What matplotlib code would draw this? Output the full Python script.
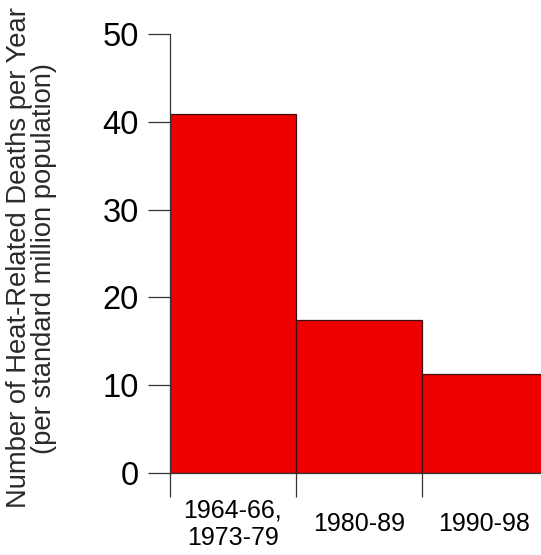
import matplotlib
matplotlib.use("Agg")
import matplotlib.pyplot as plt

periods = ["1964-66,\n1973-79", "1980-89", "1990-98"]
deaths = [40.9, 17.4, 11.2]
y_ticks = [0, 10, 20, 30, 40, 50]

plt.rcParams['font.family'] = ['Liberation Sans', 'DejaVu Sans']

fig = plt.figure(figsize=(5.41, 5.55), dpi=100)
ax = fig.add_axes([170 / 541, 82.3 / 555, 1 - 170 / 541, 438.4 / 555])

edges = list(range(len(deaths)))
ax.bar(edges, deaths, width=1.0, align='edge',
       color='#ee0000', edgecolor='#3a1010', linewidth=0.9, zorder=2)

ax.set_xlim(0, 2.95)
ax.set_ylim(0, 50)

ax.spines['top'].set_visible(False)
ax.spines['right'].set_visible(False)
ax.spines['left'].set_color('#333333')
ax.spines['bottom'].set_color('#333333')
ax.spines['left'].set_linewidth(0.9)
ax.spines['bottom'].set_linewidth(0.9)

ax.set_yticks(y_ticks)
ax.tick_params(axis='y', length=16, width=0.9, color='#333333',
               labelsize=23.5, pad=6.5)

# boundaries of the periods as major ticks, names as minor ticks
ax.set_xticks(edges)
ax.set_xticklabels([])
ax.tick_params(axis='x', which='major', length=17.5, width=0.9,
               color='#333333')
ax.set_xticks([e + 0.5 for e in edges], periods, minor=True)
ax.tick_params(axis='x', which='minor', length=0, pad=37, labelsize=18)
for lab in ax.get_xticklabels(minor=True):
    lab.set_verticalalignment('center')
    lab.set_linespacing(1.2)

fig.text(32 / 541, 1 - 258 / 555,
         "Number of Heat-Related Deaths per Year\n(per standard million population)",
         rotation=90, ha='center', va='center', multialignment='center',
         fontsize=19.7, linespacing=0.95, color='#2a2a2a')

fig.savefig("out.png", dpi=100)
